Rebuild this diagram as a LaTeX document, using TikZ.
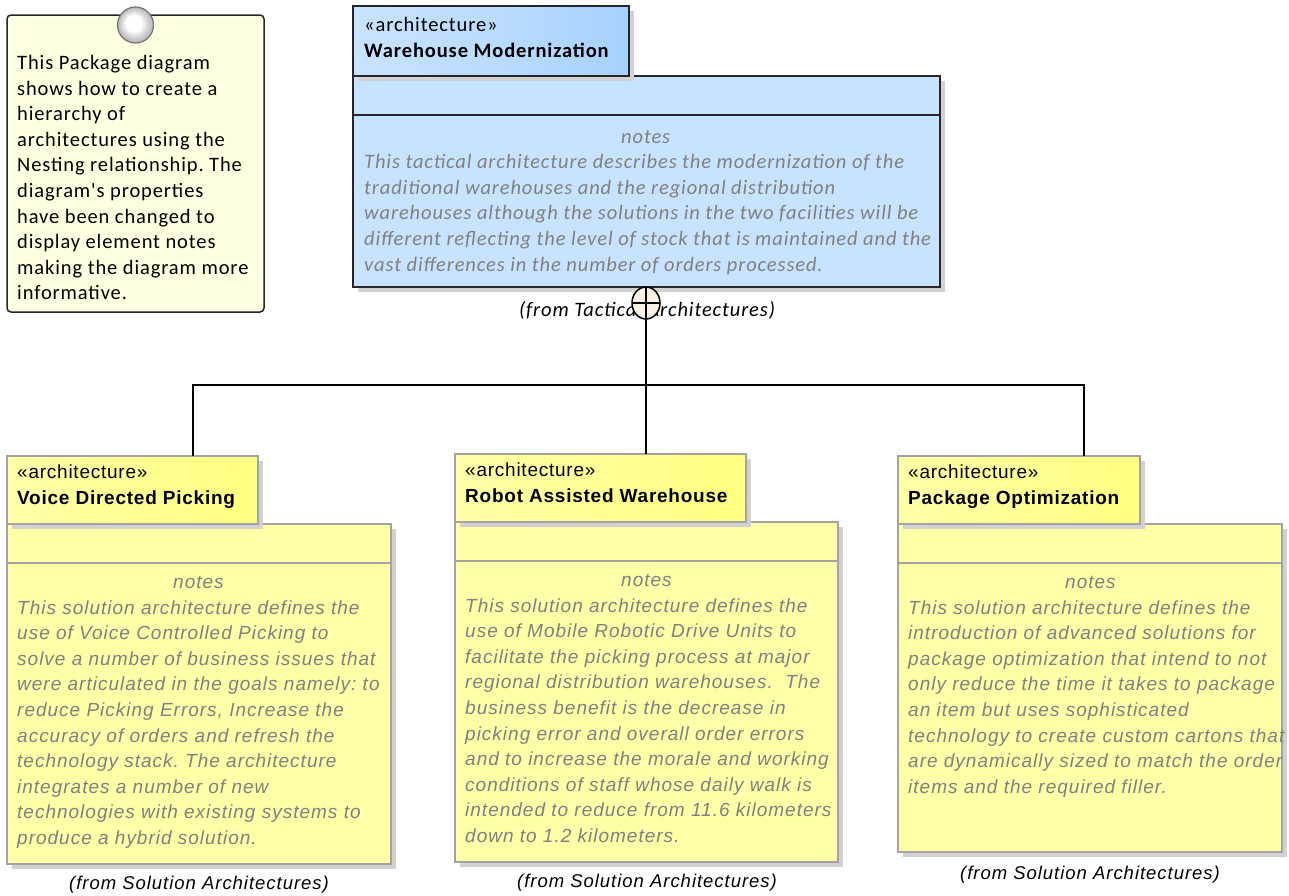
\documentclass[tikz,border=0pt]{standalone}
\usepackage{fontspec}
\usetikzlibrary{shadows}
\usetikzlibrary{shapes.geometric}
\setmainfont{Carlito}
\newfontfamily\archfont[LetterSpace=5.25]{Liberation Sans}
\newfontfamily\titlefont[LetterSpace=4]{Liberation Sans}
\newfontfamily\calfont[LetterSpace=4.3]{Carlito}
\definecolor{bluebody}{HTML}{C8E3FF}
\definecolor{bluetab}{HTML}{A6D1FF}
\definecolor{yellowbody}{HTML}{FFFFA8}
\definecolor{yellowtab}{HTML}{FFFF80}
\definecolor{notefill}{HTML}{FFFFE1}
\definecolor{nestfill}{HTML}{FBF1E3}
\definecolor{edgegray}{HTML}{A3A3A3}
\definecolor{notegray}{HTML}{808080}
\pgfdeclareradialshading{pinball}{\pgfpoint{-4bp}{4bp}}{color(0bp)=(white);color(11bp)=(white);color(19bp)=(black!18);color(30bp)=(black!38)}
\tikzset{
shade box/.style={general shadow={fill=black!18, shadow xshift=5pt, shadow yshift=-5pt}},
blue box/.style={draw=black!85, line width=1.5pt, fill=bluebody, anchor=north west, inner sep=0pt, outer sep=0pt, shade box},
blue tab/.style={blue box, left color=bluebody, right color=bluetab, middle color=bluebody!60!bluetab},
yellow box/.style={draw=edgegray, line width=1.5pt, fill=yellowbody, anchor=north west, inner sep=0pt, outer sep=0pt, shade box},
yellow tab/.style={yellow box, left color=yellowbody, right color=yellowtab},
cal text/.style={font=\calfont\fontsize{20.5}{25.6}\selectfont, align=left, anchor=north west, inner sep=0pt},
arch text/.style={font=\titlefont\fontsize{19}{25.6}\selectfont, align=left, anchor=north west, inner sep=0pt},
cal notes/.style={cal text, text=notegray, font=\calfont\itshape\fontsize{20.5}{25.6}\selectfont},
arch notes/.style={arch text, text=notegray, font=\archfont\itshape\fontsize{19}{25.6}\selectfont},
from label/.style={font=\archfont\itshape\fontsize{18.5}{22}\selectfont, inner sep=0pt},
wire/.style={draw=black, line width=1.5pt}
}
\begin{document}
\frenchspacing
\begin{tikzpicture}[x=1pt, y=-1pt]
\useasboundingbox (0,0) rectangle (1289,895);
% note
\node (note) [draw=black!85, line width=1.5pt, rounded corners=4pt, fill=notefill, anchor=north west, outer sep=0pt, minimum width=257pt, minimum height=297pt] at (7,15) {};
\node (pin) [circle, draw=black!55, line width=1.2pt, minimum size=36pt, inner sep=0pt, shading=pinball] at (135.5,25) {};
\node (notetext) [cal text] at (17,55) {This Package diagram\\shows how to create a\\hierarchy of\\architectures using the\\Nesting relationship. The\\diagram's properties\\have been changed to\\display element notes\\making the diagram more\\informative.};
% top package
\node (warebody) [blue box, minimum width=587pt, minimum height=211pt] at (353,76) {};
\node (waretab) [blue tab, minimum width=276pt, minimum height=70pt] at (353,6) {};
\draw [line width=1.5pt, draw=black!85] (warebody.west |- 0,115) -- (warebody.east |- 0,115);
\node (waretitle) [cal text] at (364,17) {«architecture»\\\textbf{Warehouse Modernization}};
\node (warenotes) [cal notes] at (364,130) {\hspace*{257pt}notes\\This tactical architecture describes the modernization of the\\traditional warehouses and the regional distribution\\warehouses although the solutions in the two facilities will be\\different reflecting the level of stock that is maintained and the\\vast differences in the number of orders processed.};
\node (warefrom) [from label, font=\calfont\itshape\fontsize{20.5}{22}\selectfont] at (647,310) {(from Tactical Architectures)};
% voice
\node (voicebody) [yellow box, minimum width=384pt, minimum height=340pt] at (7,524) {};
\node (voicetab) [yellow tab, minimum width=251pt, minimum height=68pt] at (7,456) {};
\draw [line width=1.5pt, draw=edgegray] (voicebody.west |- 0,563) -- (voicebody.east |- 0,563);
\node (voicetitle) [arch text] at (17,465) {«architecture»\\\textbf{Voice Directed Picking}};
\node (voicenotes) [arch notes] at (17,576) {\hspace*{156pt}notes\\This solution architecture defines the\\use of Voice Controlled Picking to\\solve a number of business issues that\\were articulated in the goals namely: to\\reduce Picking Errors, Increase the\\accuracy of orders and refresh the\\technology stack. The architecture\\integrates a number of new\\technologies with existing systems to\\produce a hybrid solution.};
\node (voicefrom) [from label] at (199,885) {(from Solution Architectures)};
% robot
\node (robotbody) [yellow box, minimum width=383pt, minimum height=340pt] at (455,522) {};
\node (robottab) [yellow tab, minimum width=291pt, minimum height=68pt] at (455,454) {};
\draw [line width=1.5pt, draw=edgegray] (robotbody.west |- 0,561) -- (robotbody.east |- 0,561);
\node (robottitle) [arch text] at (465,463) {«architecture»\\\textbf{Robot Assisted Warehouse}};
\node (robotnotes) [arch notes] at (465,574) {\hspace*{156pt}notes\\This solution architecture defines the\\use of Mobile Robotic Drive Units to\\facilitate the picking process at major\\regional distribution warehouses.~ The\\business benefit is the decrease in\\picking error and overall order errors\\and to increase the morale and working\\conditions of staff whose daily walk is\\intended to reduce from 11.6 kilometers\\down to 1.2 kilometers.};
\node (robotfrom) [from label] at (647,883) {(from Solution Architectures)};
% package
\node (packbody) [yellow box, minimum width=384pt, minimum height=328pt] at (898,524) {};
\node (packtab) [yellow tab, minimum width=242pt, minimum height=68pt] at (898,456) {};
\draw [line width=1.5pt, draw=edgegray] (packbody.west |- 0,563) -- (packbody.east |- 0,563);
\node (packtitle) [arch text] at (908,465) {«architecture»\\\textbf{Package Optimization}};
\node (packnotes) [arch notes] at (908,576) {\hspace*{157pt}notes\\This solution architecture defines the\\introduction of advanced solutions for\\package optimization that intend to not\\only reduce the time it takes to package\\an item but uses sophisticated\\technology to create custom cartons that\\are dynamically sized to match the order\\items and the required filler.};
\node (packfrom) [from label] at (1090,875) {(from Solution Architectures)};
% nesting
\node (nest) [ellipse, draw=black, line width=1.5pt, fill=nestfill, minimum width=28pt, minimum height=32pt, inner sep=0pt, outer sep=0pt] at (646,303) {};
\draw [wire] (nest.west) -- (nest.east);
\draw [wire] (nest.north) -- (nest.south);
\coordinate (bus) at (646,385);
\coordinate (voicetop) at (193,456);
\coordinate (packtop) at (1084,456);
\coordinate (robottop) at (646,454);
\draw [wire] (nest.south) -- (robottop);
\draw [wire] (voicetop) |- (bus) -| (packtop);
\end{tikzpicture}
\end{document}
